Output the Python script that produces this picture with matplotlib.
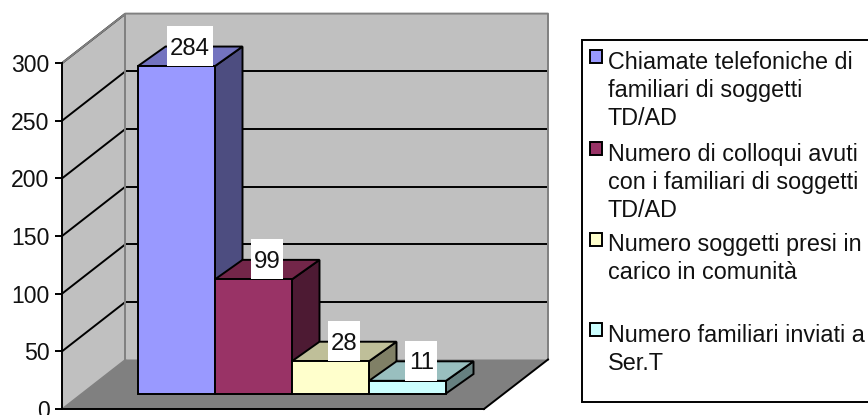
import matplotlib
matplotlib.use("Agg")
import matplotlib.pyplot as plt
from matplotlib.patches import Polygon, Rectangle

plt.rcParams['font.family'] = ['Liberation Sans', 'DejaVu Sans']

# Chart data
series_labels = [
    "Chiamate telefoniche di\nfamiliari di soggetti\nTD/AD",
    "Numero di colloqui avuti\ncon i familiari di soggetti\nTD/AD",
    "Numero soggetti presi in\ncarico in comunità",
    "Numero familiari inviati a\nSer.T",
]
series_values = [284, 99, 28, 11]
front_colors = ["#9999FF", "#993366", "#FFFFCC", "#CCFFFF"]
top_colors = ["#7373BF", "#732649", "#BFBF99", "#99BFBF"]
side_colors = ["#4D4D80", "#4D1A33", "#808066", "#668080"]
y_ticks = [0, 50, 100, 150, 200, 250, 300]

W, H = 868, 415
PX_PER_BAR = 77.0      # one category step in pixels
PX_PER_UNIT = 1.153    # one value unit in pixels
BAR_ORIGIN_X = 138.0
ZERO_Y = 409.0
LW = 1.4

fig = plt.figure(figsize=(W / 100, H / 100), dpi=100, facecolor="white")
ax = fig.add_axes([0, 0, 1, 1])
ax.set_xlim(-BAR_ORIGIN_X / PX_PER_BAR, (W - BAR_ORIGIN_X) / PX_PER_BAR)
ax.set_ylim(-(H - ZERO_Y) / PX_PER_UNIT, ZERO_Y / PX_PER_UNIT)
ax.patch.set_visible(False)


def dx(px):
    return px / PX_PER_BAR


def dy(px):
    return px / PX_PER_UNIT


def xp(px):
    return (px - BAR_ORIGIN_X) / PX_PER_BAR


# Box geometry of the oblique 3D projection
wall_x0, wall_x1 = xp(62), xp(125.5)
back_x1 = xp(548)
floor_x1 = xp(484)
back_rise = dy(49.5)
vmax = y_ticks[-1]
grey = "#808080"

# Left wall, back wall, floor
ax.add_patch(Polygon([(wall_x0, 0), (wall_x1, back_rise), (wall_x1, vmax + back_rise), (wall_x0, vmax)],
                     closed=True, fc="#C0C0C0", ec="none", zorder=1))
ax.add_patch(Rectangle((wall_x1, back_rise), back_x1 - wall_x1, vmax,
                       fc="#C0C0C0", ec="none", zorder=1))
ax.add_patch(Polygon([(wall_x0, 0), (floor_x1, 0), (back_x1, back_rise), (wall_x1, back_rise)],
                     closed=True, fc=grey, ec="none", zorder=1))

# Gridlines across both walls
for v in y_ticks[1:]:
    ax.plot([wall_x0, wall_x1], [v, v + back_rise], color="black", lw=LW, zorder=2,
            solid_capstyle="butt")
    if v < vmax:
        ax.plot([wall_x1, back_x1], [v + back_rise, v + back_rise], color="black", lw=LW,
                zorder=2, solid_capstyle="butt")

# Grey wall frame and floor edges
ax.plot([wall_x0, wall_x1, back_x1, back_x1],
        [vmax, vmax + back_rise, vmax + back_rise, back_rise], color=grey, lw=LW, zorder=3)
ax.plot([wall_x1, wall_x1], [back_rise, vmax + back_rise], color=grey, lw=LW, zorder=3)
ax.plot([wall_x0, wall_x1], [0, back_rise], color=grey, lw=1.0, zorder=3)
ax.plot([floor_x1, back_x1], [0, back_rise], color="black", lw=LW, zorder=3)

# Extruded bars
base = dy(ZERO_Y - 393.5)
bar_dx, bar_dy = dx(27.5), dy(19.5)
for i, v in enumerate(series_values):
    z = 5 + i
    top = base + v
    ax.add_patch(Polygon([(i + 1, base), (i + 1 + bar_dx, base + bar_dy),
                          (i + 1 + bar_dx, top + bar_dy), (i + 1, top)],
                         closed=True, fc=side_colors[i], ec="black", lw=LW, zorder=z,
                         joinstyle="miter"))
    ax.add_patch(Polygon([(i, top), (i + bar_dx, top + bar_dy),
                          (i + 1 + bar_dx, top + bar_dy), (i + 1, top)],
                         closed=True, fc=top_colors[i], ec="black", lw=LW, zorder=z,
                         joinstyle="miter"))
    ax.add_patch(Rectangle((i, base), 1, v, fc=front_colors[i], ec="black", lw=LW, zorder=z,
                           joinstyle="miter"))

# Value labels on white boxes
for i, v in enumerate(series_values):
    text = str(v)
    cx = i + 0.5 + bar_dx / 2
    w = dx(len(text) * 14 + 4)
    h = dy(40)
    top = base + v
    ax.add_patch(Rectangle((cx - w / 2, top), w, h, fc="white", ec="none", zorder=20))
    ax.text(cx, top + h / 2, text, ha="center", va="center_baseline", fontsize=17.3,
            color="#111111", zorder=21)

# Value axis
for side in ("top", "right"):
    ax.spines[side].set_visible(False)
ax.spines["left"].set_position(("data", wall_x0))
ax.spines["left"].set_bounds(0, vmax)
ax.spines["bottom"].set_position(("data", 0))
ax.spines["bottom"].set_bounds(wall_x0, floor_x1)
for side in ("left", "bottom"):
    ax.spines[side].set_linewidth(LW)
    ax.spines[side].set_zorder(4)
ax.set_xticks([])
ax.set_yticks(y_ticks)
ax.tick_params(axis="y", length=5, width=LW, pad=4, labelsize=16.6, direction="out",
               labelcolor="#111111")


# Legend panel, positioned in figure pixels
def fx(px):
    return px / W


def fy(px):
    return 1 - px / H


fig.add_artist(Rectangle((fx(582), fy(401.5)), fx(900) - fx(582), fy(40) - fy(401.5),
                         transform=fig.transFigure, fc="white", ec="black", lw=LW, zorder=30))
marker_tops = [50, 142, 233, 323]
text_tops = [51, 143, 233, 324]
for label, color, my, ty in zip(series_labels, front_colors, marker_tops, text_tops):
    fig.add_artist(Rectangle((fx(590), fy(my + 13)), fx(12), fy(my) - fy(my + 13),
                             transform=fig.transFigure, fc=color, ec="black", lw=LW, zorder=31))
    fig.text(fx(608), fy(ty), label, ha="left", va="top", fontsize=16.8,
             linespacing=1.29, color="#111111", zorder=32)

fig.savefig("out.png", dpi=100, facecolor="white")
